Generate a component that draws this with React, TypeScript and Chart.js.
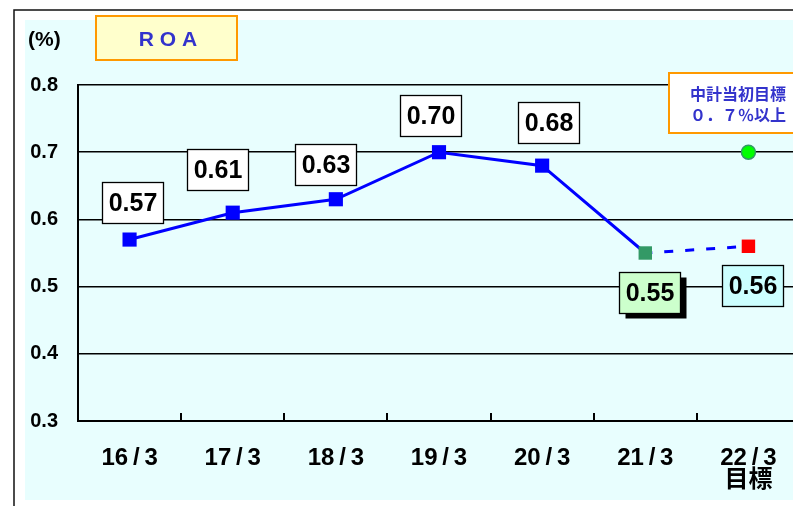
import React, { useEffect, useRef } from "react";
import { Chart, registerables } from "chart.js";

Chart.register(...registerables);

// ---- data ----
const categories: (string | string[])[] = [
  "16\u2009/\u20093", "17\u2009/\u20093", "18\u2009/\u20093", "19\u2009/\u20093",
  "20\u2009/\u20093", "21\u2009/\u20093", ["22\u2009/\u20093", "目標"],
];
const roaValues: number[] = [0.57, 0.61, 0.63, 0.70, 0.68, 0.55, 0.56];
const initialTargetValues: (number | null)[] = [null, null, null, null, null, null, 0.70];
const valueLabels: string[] = ["0.57", "0.61", "0.63", "0.70", "0.68", "0.55", "0.56"];
const yMin = 0.3;
const yMax = 0.8;
const yStep = 0.1;
const titleText = "R O A";
const unitText = "(%)";
const targetNoteLines: string[] = ["中計当初目標", "０．７％以上"];

// ---- styles ----
const W = 810;
const H = 506;
const FONT = '"Liberation Sans", "Noto Sans CJK JP", Arial, sans-serif';
const CJK = '"Noto Sans CJK JP", "Liberation Sans", sans-serif';
const pointColors = ["#0000FF", "#0000FF", "#0000FF", "#0000FF", "#0000FF", "#339966", "#FF0000"];
const pointSizes = [10, 10, 10, 10, 10, 9.5, 9.5];
const labelOffsets: [number, number][] = [
  [3, -37], [-15, -43], [-10, -35], [-9, -37], [6, -43], [4, 39], [4, 39],
];
const labelFills = ["#FFFFFF", "#FFFFFF", "#FFFFFF", "#FFFFFF", "#FFFFFF", "#CCFFCC", "#CCFFFF"];
const labelShadow = [false, false, false, false, false, true, false];

const decorPlugin = {
  id: "decor",
  beforeDraw(chart: any) {
    const ctx = chart.ctx as CanvasRenderingContext2D;
    ctx.save();
    ctx.fillStyle = "#FFFFFF";
    ctx.fillRect(0, 0, W, H);
    ctx.fillStyle = "#E8FEFE";
    ctx.fillRect(25, 20, W - 25, 480);
    ctx.strokeStyle = "#111";
    ctx.lineWidth = 1.5;
    ctx.beginPath();
    ctx.moveTo(14, H + 2);
    ctx.lineTo(14, 10);
    ctx.lineTo(W + 2, 10);
    ctx.stroke();
    // unit
    ctx.fillStyle = "#000";
    ctx.font = `bold 21px ${FONT}`;
    ctx.textBaseline = "middle";
    ctx.textAlign = "left";
    ctx.fillText(unitText, 28, 40);
    // title box
    ctx.fillStyle = "#FFFFCC";
    ctx.fillRect(96, 16, 141, 44);
    ctx.strokeStyle = "#FF9900";
    ctx.lineWidth = 2;
    ctx.strokeRect(96, 16, 141, 44);
    ctx.fillStyle = "#3333CC";
    ctx.font = `bold 21px ${FONT}`;
    ctx.textAlign = "center";
    ctx.fillText(titleText, 168, 40);
    ctx.restore();
  },
  afterDraw(chart: any) {
    const ctx = chart.ctx as CanvasRenderingContext2D;
    const xs = chart.scales.x;
    const area = chart.chartArea;
    ctx.save();
    // inward x ticks
    ctx.strokeStyle = "#000";
    ctx.lineWidth = 2;
    for (let i = 1; i < categories.length; i++) {
      const bx = Math.round((xs.getPixelForValue(i - 1) + xs.getPixelForValue(i)) / 2);
      ctx.beginPath();
      ctx.moveTo(bx, area.bottom);
      ctx.lineTo(bx, area.bottom - 8);
      ctx.stroke();
    }
    // value labels
    const meta = chart.getDatasetMeta(0);
    meta.data.forEach((pt: any, i: number) => {
      const [dx, dy] = labelOffsets[i];
      const cx = pt.x + dx;
      const cy = pt.y + dy;
      const bw = 61;
      const bh = 41;
      const x0 = Math.round(cx - bw / 2) + 0.5;
      const y0 = Math.round(cy - bh / 2) + 0.5;
      if (labelShadow[i]) {
        ctx.fillStyle = "#000";
        ctx.fillRect(x0 + 6, y0 + 5, bw, bh);
      }
      ctx.fillStyle = labelFills[i];
      ctx.fillRect(x0, y0, bw, bh);
      ctx.strokeStyle = "#000";
      ctx.lineWidth = 1.3;
      ctx.strokeRect(x0, y0, bw, bh);
      ctx.fillStyle = "#000";
      ctx.font = `bold 25px ${FONT}`;
      ctx.textAlign = "center";
      ctx.textBaseline = "middle";
      ctx.fillText(valueLabels[i], x0 + bw / 2, y0 + bh / 2 + 1);
    });
    // target note box
    ctx.fillStyle = "#FFFFFF";
    ctx.fillRect(669, 73, W - 669 + 10, 60);
    ctx.strokeStyle = "#FF9900";
    ctx.lineWidth = 2;
    ctx.strokeRect(669, 73, W - 669 + 10, 60);
    ctx.fillStyle = "#3333CC";
    ctx.font = `bold 16px ${CJK}`;
    ctx.textAlign = "center";
    ctx.textBaseline = "middle";
    ctx.fillText(targetNoteLines[0], 738, 94);
    ctx.fillText(targetNoteLines[1], 738, 115);
    ctx.restore();
  },
};

export default function App() {
  const canvasRef = useRef<HTMLCanvasElement | null>(null);

  useEffect(() => {
    const canvas = canvasRef.current;
    if (!canvas) return;
    const chart = new Chart(canvas, {
      type: "line",
      data: {
        labels: categories as any,
        datasets: [
          {
            label: "ROA",
            data: roaValues,
            borderColor: "#0000FF",
            borderWidth: 3,
            pointStyle: "rect",
            pointRadius: pointSizes,
            pointHoverRadius: pointSizes,
            pointBackgroundColor: pointColors,
            pointBorderColor: pointColors,
            pointBorderWidth: 0,
            tension: 0,
            segment: {
              borderDash: (c: any) => (c.p0DataIndex === 5 ? [9, 12] : undefined),
              borderDashOffset: (c: any) => (c.p0DataIndex === 5 ? 2 : 0),
            },
          } as any,
          {
            label: "中計当初目標",
            data: initialTargetValues,
            showLine: false,
            pointStyle: "circle",
            pointRadius: 7,
            pointHoverRadius: 7,
            pointBackgroundColor: "#00FF00",
            pointBorderColor: "#339966",
            pointBorderWidth: 1.5,
          } as any,
        ],
      },
      options: {
        animation: false,
        responsive: false,
        events: [],
        layout: { padding: { left: 0, top: 85, right: 9, bottom: 0 } },
        plugins: {
          legend: { display: false },
          tooltip: { enabled: false },
          title: { display: false },
        },
        scales: {
          x: {
            offset: true,
            grid: { display: false },
            border: { display: true, color: "#000", width: 2 },
            ticks: {
              color: "#000",
              font: { family: FONT, size: 24, weight: "bold", lineHeight: 0.9 },
              padding: 19,
              maxRotation: 0,
              autoSkip: false,
            },
            afterFit: (scale: any) => {
              scale.height = 85;
            },
          },
          y: {
            min: yMin,
            max: yMax,
            grid: { color: "#000", lineWidth: 1.5, drawTicks: false },
            border: { display: true, color: "#000", width: 2 },
            ticks: {
              stepSize: yStep,
              color: "#000",
              font: { family: FONT, size: 20, weight: "bold" },
              padding: 20,
              callback: (v: any) => Number(v).toFixed(1),
            },
            afterFit: (scale: any) => {
              scale.width = 78;
            },
          },
        },
      },
      plugins: [decorPlugin],
    });
    return () => chart.destroy();
  }, []);

  return (
    <div style={{ position: "fixed", left: 0, top: 0, width: 793, height: 506, overflow: "hidden", background: "#fff" }}>
      <canvas ref={canvasRef} width={W} height={H} style={{ display: "block", width: W, height: H }} />
    </div>
  );
}
